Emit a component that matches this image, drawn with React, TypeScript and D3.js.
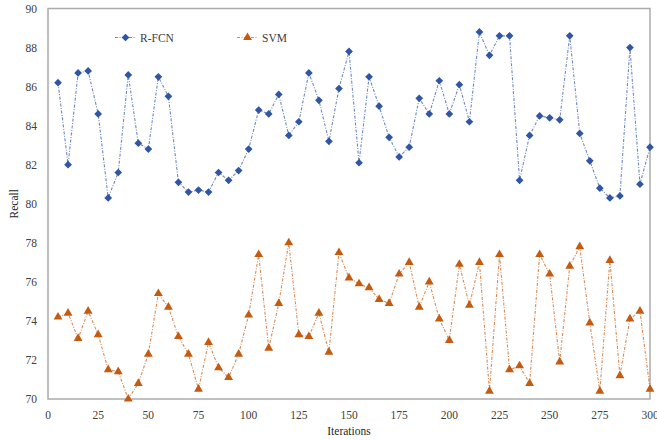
import React from "react";
import * as d3 from "d3";

const iterations = d3.range(5, 301, 5);

const rfcnRecall = [
  86.2, 82.0, 86.7, 86.8, 84.6, 80.3, 81.6, 86.6, 83.1, 82.8,
  86.5, 85.5, 81.1, 80.6, 80.7, 80.6, 81.6, 81.2, 81.7, 82.8,
  84.8, 84.6, 85.6, 83.5, 84.2, 86.7, 85.3, 83.2, 85.9, 87.8,
  82.1, 86.5, 85.0, 83.4, 82.4, 82.9, 85.4, 84.6, 86.3, 84.6,
  86.1, 84.2, 88.8, 87.6, 88.6, 88.6, 81.2, 83.5, 84.5, 84.4,
  84.3, 88.6, 83.6, 82.2, 80.8, 80.3, 80.4, 88.0, 81.0, 82.9,
];

const svmRecall = [
  74.2, 74.4, 73.1, 74.5, 73.3, 71.5, 71.4, 70.0, 70.8, 72.3,
  75.4, 74.7, 73.2, 72.3, 70.5, 72.9, 71.6, 71.1, 72.3, 74.3,
  77.4, 72.6, 74.9, 78.0, 73.3, 73.2, 74.4, 72.4, 77.5, 76.2,
  75.9, 75.7, 75.1, 74.9, 76.4, 77.0, 74.7, 76.0, 74.1, 73.0,
  76.9, 74.8, 77.0, 70.4, 77.4, 71.5, 71.7, 70.8, 77.4, 76.4,
  71.9, 76.8, 77.8, 73.9, 70.4, 77.1, 71.2, 74.1, 74.5, 70.5,
];

const xTicks = d3.range(0, 301, 25);
const yTicks = d3.range(70, 91, 2);

const seriesNames = ["R-FCN", "SVM"];

const W = 657;
const H = 440;
const margin = { left: 48, right: 7, top: 8.5, bottom: 41 };

const BLUE = "#2F55A5";
const ORANGE = "#C55A11";
const FONT = "'Liberation Serif', 'Times New Roman', serif";

export default function App() {
  const x = d3.scaleLinear().domain([0, 300]).range([margin.left, W - margin.right]);
  const y = d3.scaleLinear().domain([70, 90]).range([H - margin.bottom, margin.top]);

  const line = d3
    .line<[number, number]>()
    .x((d) => x(d[0]))
    .y((d) => y(d[1]));

  const rfcnPts: [number, number][] = iterations.map((it, i) => [it, rfcnRecall[i]]);
  const svmPts: [number, number][] = iterations.map((it, i) => [it, svmRecall[i]]);

  const diamond = d3.symbol(d3.symbolDiamond2, 38)();
  const triangle = d3.symbol(d3.symbolTriangle, 34)();

  const dash = "3,1.5,1,1.5";

  return (
    <svg
      width={W}
      height={H}
      style={{ position: "absolute", left: 0, top: 0, background: "#fff" }}
    >
      {/* plot frame */}
      <rect
        x={x(0)}
        y={y(90)}
        width={x(300) - x(0)}
        height={y(70) - y(90)}
        fill="none"
        stroke="#ababab"
        strokeWidth={1.5}
      />

      {/* y ticks */}
      {yTicks.map((t) => (
        <text
          key={"y" + t}
          x={x(0) - 11}
          y={y(t)}
          dy="0.35em"
          textAnchor="end"
          fontFamily={FONT}
          fontSize={11.5}
          fill="#404040"
        >
          {t}
        </text>
      ))}

      {/* x ticks */}
      {xTicks.map((t) => (
        <text
          key={"x" + t}
          x={x(t)}
          y={y(70) + 16}
          dy="0.35em"
          textAnchor="middle"
          fontFamily={FONT}
          fontSize={11.5}
          fill="#404040"
        >
          {t}
        </text>
      ))}

      {/* axis titles */}
      <text
        x={(x(0) + x(300)) / 2}
        y={H - 5}
        textAnchor="middle"
        fontFamily={FONT}
        fontSize={11.5}
        fill="#262626"
      >
        Iterations
      </text>
      <text
        transform={`translate(18, ${(y(70) + y(90)) / 2}) rotate(-90)`}
        textAnchor="middle"
        fontFamily={FONT}
        fontSize={11.5}
        fill="#262626"
      >
        Recall
      </text>

      {/* R-FCN series */}
      <path
        d={line(rfcnPts) || ""}
        fill="none"
        stroke={BLUE}
        strokeOpacity={0.7}
        strokeWidth={1.1}
        strokeDasharray={dash}
      />
      {rfcnPts.map((p, i) => (
        <path key={"r" + i} d={diamond || ""} transform={`translate(${x(p[0])},${y(p[1])})`} fill={BLUE} />
      ))}

      {/* SVM series */}
      <path
        d={line(svmPts) || ""}
        fill="none"
        stroke={ORANGE}
        strokeOpacity={0.7}
        strokeWidth={1.1}
        strokeDasharray={dash}
      />
      {svmPts.map((p, i) => (
        <path key={"s" + i} d={triangle || ""} transform={`translate(${x(p[0])},${y(p[1])})`} fill={ORANGE} />
      ))}

      {/* legend */}
      {seriesNames.map((name, i) => {
        const lx = i === 0 ? 115 : 237;
        const ly = 37.5;
        const color = i === 0 ? BLUE : ORANGE;
        return (
          <g key={name}>
            <line
              x1={lx}
              x2={lx + 21}
              y1={ly}
              y2={ly}
              stroke={color}
              strokeOpacity={0.7}
              strokeWidth={1.1}
              strokeDasharray={dash}
            />
            <path
              d={(i === 0 ? diamond : triangle) || ""}
              transform={`translate(${lx + 10.5},${ly})`}
              fill={color}
            />
            <text
              x={lx + 25}
              y={ly}
              dy="0.35em"
              fontFamily={FONT}
              fontSize={11.5}
              fill="#404040"
            >
              {name}
            </text>
          </g>
        );
      })}
    </svg>
  );
}
